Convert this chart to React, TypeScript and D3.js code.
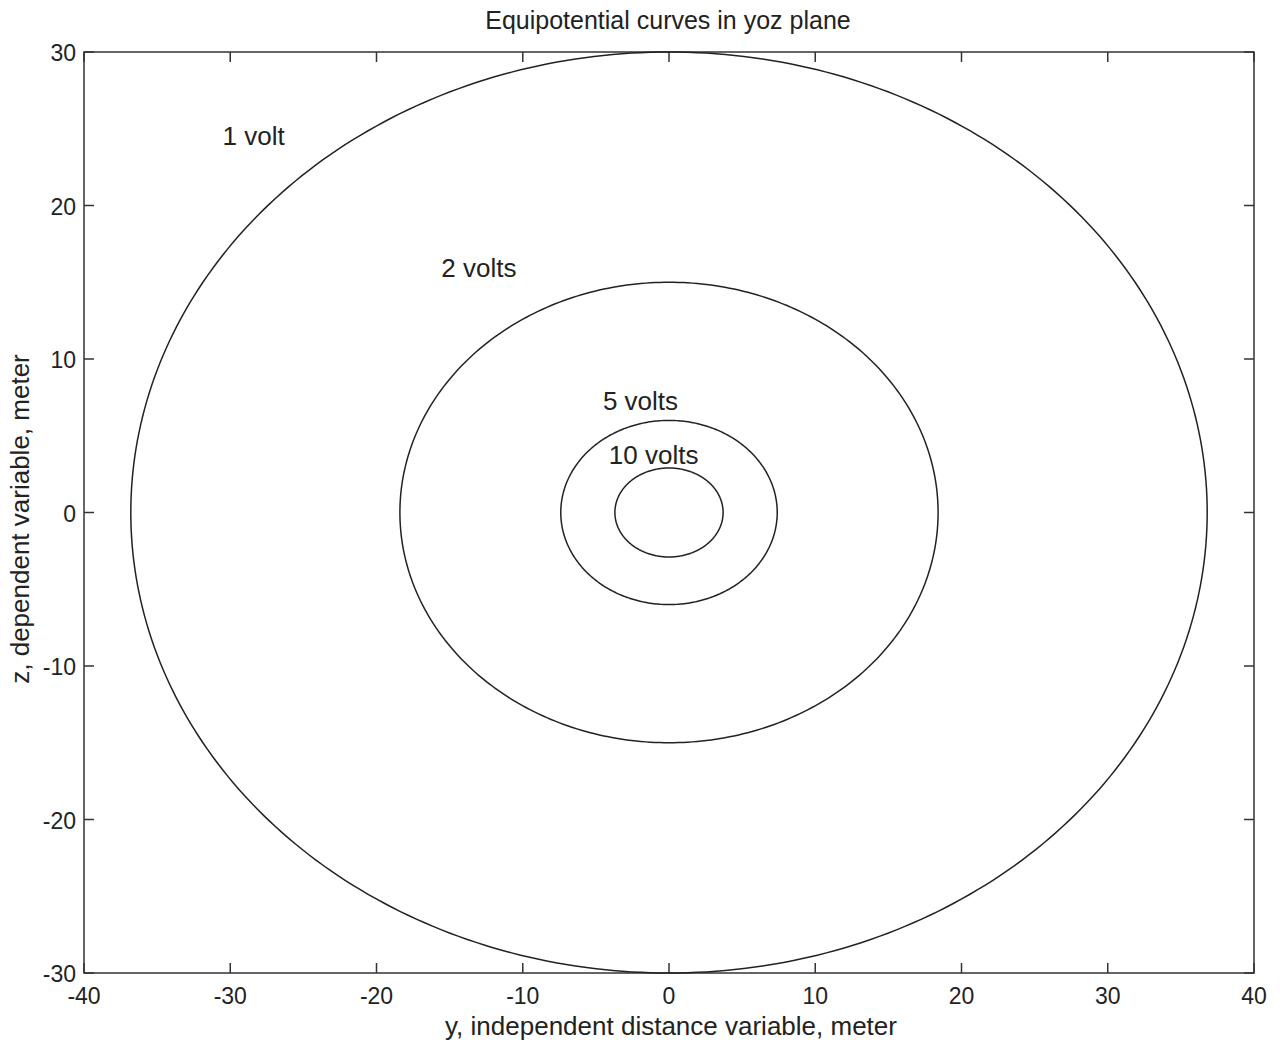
import React, { useEffect, useRef } from "react";
import * as d3 from "d3";

// equipotential curves: semi-axes (y, z) in meters
const volts = [1, 2, 5, 10];
const semiY = [36.8, 18.4, 7.4, 3.7];
const semiZ = [30, 15, 6, 2.9];
const labelText = ["1 volt", "2 volts", "5 volts", "10 volts"];
const labelY = [-28.4, -13.0, -1.95, -1.05];
const labelZ = [24.5, 15.9, 7.25, 3.75];

const xTicks = [-40, -30, -20, -10, 0, 10, 20, 30, 40];
const yTicks = [-30, -20, -10, 0, 10, 20, 30];

const W = 1280,
	H = 1046;
const margin = { left: 84, top: 52, right: 26, bottom: 73 };
const font = "Arial, 'Liberation Sans', Helvetica, sans-serif";

export default function App() {
	const ref = useRef<SVGSVGElement>(null);

	useEffect(() => {
		const svg = d3.select(ref.current);
		svg.selectAll("*").remove();

		const x = d3.scaleLinear().domain([-40, 40]).range([margin.left, W - margin.right]);
		const y = d3.scaleLinear().domain([-30, 30]).range([H - margin.bottom, margin.top]);

		const g = svg.append("g");

		// frame
		g.append("rect")
			.attr("x", x(-40))
			.attr("y", y(30))
			.attr("width", x(40) - x(-40))
			.attr("height", y(-30) - y(30))
			.attr("fill", "none")
			.attr("stroke", "#333")
			.attr("stroke-width", 1.5);

		const tick = 10;
		// x ticks, bottom and top (inward)
		xTicks.forEach((t) => {
			g.append("line")
				.attr("x1", x(t)).attr("x2", x(t))
				.attr("y1", y(-30)).attr("y2", y(-30) - tick)
				.attr("stroke", "#333").attr("stroke-width", 1.5);
			g.append("line")
				.attr("x1", x(t)).attr("x2", x(t))
				.attr("y1", y(30)).attr("y2", y(30) + tick)
				.attr("stroke", "#333").attr("stroke-width", 1.5);
			g.append("text")
				.attr("x", x(t))
				.attr("y", y(-30) + 31)
				.attr("text-anchor", "middle")
				.attr("font-family", font)
				.attr("font-size", 23)
				.attr("fill", "#222")
				.text(t);
		});
		// y ticks, left and right
		yTicks.forEach((t) => {
			g.append("line")
				.attr("x1", x(-40)).attr("x2", x(-40) + tick)
				.attr("y1", y(t)).attr("y2", y(t))
				.attr("stroke", "#333").attr("stroke-width", 1.5);
			g.append("line")
				.attr("x1", x(40)).attr("x2", x(40) - tick)
				.attr("y1", y(t)).attr("y2", y(t))
				.attr("stroke", "#333").attr("stroke-width", 1.5);
			g.append("text")
				.attr("x", x(-40) - 8)
				.attr("y", y(t) + 9)
				.attr("text-anchor", "end")
				.attr("font-family", font)
				.attr("font-size", 23)
				.attr("fill", "#222")
				.text(t);
		});

		// curves
		const angles = d3.range(0, 361, 1).map((a) => (a * Math.PI) / 180);
		volts.forEach((v, i) => {
			const path = d3
				.line<number>()
				.x((a) => x(semiY[i] * Math.cos(a)))
				.y((a) => y(semiZ[i] * Math.sin(a)));
			g.append("path")
				.attr("d", path(angles))
				.attr("fill", "none")
				.attr("stroke", "#222")
				.attr("stroke-width", 1.5);
			g.append("text")
				.attr("x", x(labelY[i]))
				.attr("y", y(labelZ[i]) + 9)
				.attr("text-anchor", "middle")
				.attr("font-family", font)
				.attr("font-size", 26)
				.attr("fill", "#222")
				.text(labelText[i]);
		});

		// title and axis labels
		svg.append("text")
			.attr("x", 668)
			.attr("y", 29)
			.attr("text-anchor", "middle")
			.attr("font-family", font)
			.attr("font-size", 25)
			.attr("fill", "#222")
			.text("Equipotential curves in yoz plane");
		svg.append("text")
			.attr("x", 671)
			.attr("y", 1035)
			.attr("text-anchor", "middle")
			.attr("font-family", font)
			.attr("font-size", 26)
			.attr("fill", "#222")
			.text("y, independent distance variable,  meter");
		svg.append("text")
			.attr("transform", `translate(29,519) rotate(-90)`)
			.attr("text-anchor", "middle")
			.attr("font-family", font)
			.attr("font-size", 26)
			.attr("fill", "#222")
			.text("z, dependent variable, meter");
	}, []);

	return (
		<svg
			ref={ref}
			width={W}
			height={H}
			style={{ position: "absolute", left: 0, top: 0, background: "#fff" }}
		/>
	);
}
